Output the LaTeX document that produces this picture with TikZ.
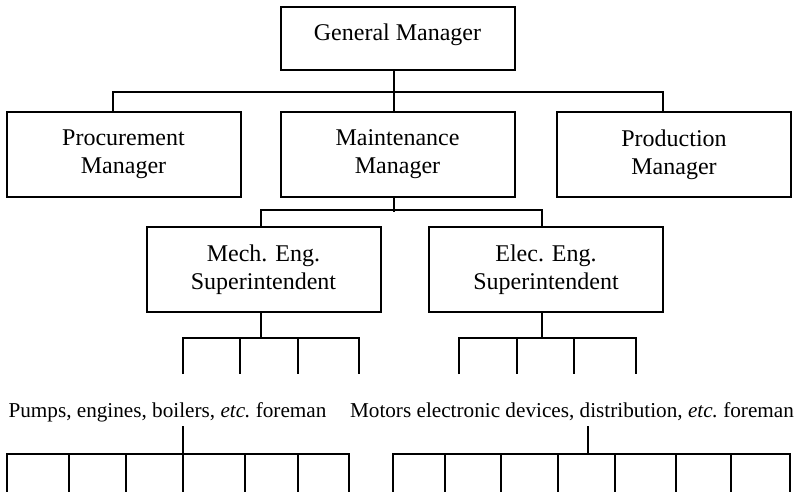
\documentclass[tikz,border=0pt]{standalone}
\usepackage{fontspec}
\setmainfont{Liberation Serif}

\begin{document}
\begin{tikzpicture}[x=0.5pt,y=-0.5pt,
	box/.style={draw=black, line width=1pt, minimum width=117pt, minimum height=42.5pt, inner sep=0pt, align=center, font=\fontsize{12}{14}\selectfont},
	lbl/.style={inner sep=0pt, anchor=base, text depth=0pt, font=\fontsize{10.6}{12.6}\selectfont},
	line/.style={black, line width=1pt}]
	\useasboundingbox (0,0) rectangle (799,492);
	
	
	\node[box, minimum height=0pt, text height=16.85pt, text depth=14.65pt] (gm) at (397.5,38.5) {General Manager};
	
	\node[box] (proc) at (123.5,154.5) {Procurement\\Manager};
	\node[box] (main) at (397.5,154.5) {Maintenance\\Manager};
	\node[box] (prod) at (674,154.5) {Production\\Manager};
	
	\node[box] (mech) at (263.5,269.5) {Mech. Eng.\\Superintendent};
	\node[box] (elec) at (546,269.5) {Elec. Eng.\\Superintendent};
	
	\node[lbl] (pumps) at (167.5,417) {Pumps, engines, boilers, \textit{etc.}\ foreman};
	\node[lbl] (motors) at (572,417) {Motors electronic devices, distribution, \textit{etc.}\ foreman};
	
	
	\draw[line] ([xshift=-1.75pt]gm.south) -- ([xshift=-1.75pt]main.north);
	\draw[line] ([xshift=-5.25pt]proc.north) -- ++(0,-19) -| ([xshift=-5.5pt]prod.north);
	
	\draw[line] ([xshift=-1.75pt]main.south) -- ++(0,14);
	\draw[line] ([xshift=-1.25pt]mech.north) -- ++(0,-16) -| ([xshift=-2pt]elec.north);
	
	%\draw[line] (261,312) -- (261,338);
	\draw[line] ([xshift=-1.25pt]mech.south) -- ++(0,26);
	\draw[line] (183,374) -- (183,338) -- (359,338) -- (359,374);
	\foreach \x in {240,298} \draw[line] (\x,338) -- (\x,374);
	
	\draw[line] ([xshift=-2pt]elec.south) -- ++(0,26);
	\draw[line] (459,374) -- (459,338) -- (636,338) -- (636,374);
	\foreach \x in {517,574} \draw[line] (\x,338) -- (\x,374);
	
	
	\draw[line] ([xshift=7.75pt,yshift=-4.5pt]pumps.south) -- ++(0,28);
	\draw[line] (7,492) -- (7,454) -- (349,454) -- (349,492);
	\foreach \x in {69,126,183,245,298} \draw[line] (\x,454) -- (\x,492);
	
	\draw[line] ([xshift=8pt,yshift=-4.5pt]motors.south) -- ++(0,28);
	\draw[line] (393,492) -- (393,454) -- (790,454) -- (790,492);
	\foreach \x in {445,501,558,615,676,731} \draw[line] (\x,454) -- (\x,492);
	
\end{tikzpicture}
\end{document}
